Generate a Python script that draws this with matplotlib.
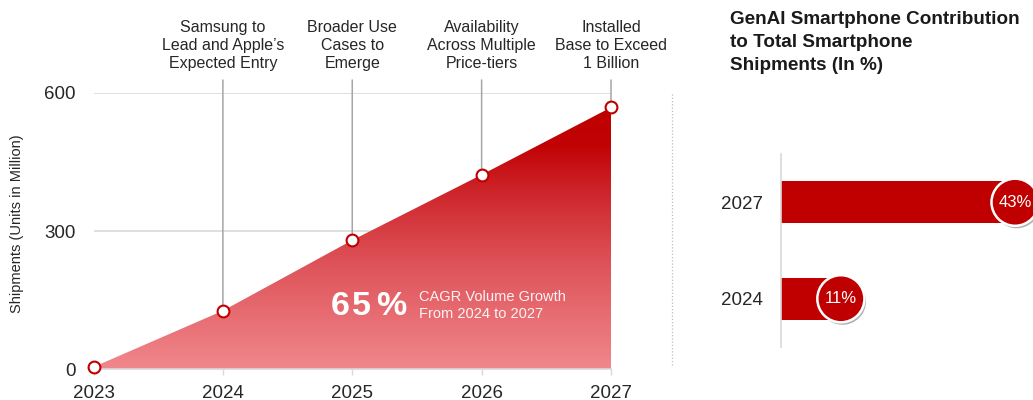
import numpy as np
import matplotlib
matplotlib.use("Agg")
import matplotlib.pyplot as plt
from matplotlib.colors import LinearSegmentedColormap
from matplotlib.patches import Polygon
import matplotlib.patheffects as pe

plt.rcParams['font.family'] = ['Liberation Sans', 'DejaVu Sans']

# ---- data -------------------------------------------------------------
years = [2023, 2024, 2025, 2026, 2027]
shipments = [5, 127, 280, 422, 568]          # GenAI smartphone shipments, million units
milestone_years = [2024, 2025, 2026, 2027]
milestones = [
    "Samsung to\nLead and Apple\u2019s\nExpected Entry",
    "Broader Use\nCases to\nEmerge",
    "Availability\nAcross Multiple\nPrice-tiers",
    "Installed\nBase to Exceed\n1 Billion",
]
y_ticks = [0, 300, 600]

share_years = ["2024", "2027"]
share_values = [11, 43]                      # % of total smartphone shipments

cagr_value = "65%"
cagr_text = "CAGR Volume Growth\nFrom 2024 to 2027"
right_title = "GenAI Smartphone Contribution\nto Total Smartphone\nShipments (In %)"

# ---- styling ----------------------------------------------------------
W, H = 1033, 400
RED = "#C00000"
GRID = "#D9D9D9"
TXT = "#262626"


def fx(px):
    return px / W


def fy(py):
    return 1 - py / H


fig = plt.figure(figsize=(W / 100, H / 100), dpi=100)

# ---- left panel: shipments area chart --------------------------------
ax_l, ax_r, ax_t, ax_b = 93.5, 611, 92.7, 369.3
ax = fig.add_axes([fx(ax_l), fy(ax_b), fx(ax_r) - fx(ax_l), fy(ax_t) - fy(ax_b)])
ax.set_xlim(years[0], years[-1])
ax.set_ylim(0, 600)
ax.set_axisbelow(True)

for s in ["top", "right", "left"]:
    ax.spines[s].set_visible(False)
ax.spines["bottom"].set_color(GRID)
ax.spines["bottom"].set_linewidth(1.2)

ax.set_xticks(years)
ax.set_xticklabels([str(y) for y in years])
ax.set_yticks(y_ticks)
ax.tick_params(axis="x", length=4.3, width=1, color=GRID, pad=7,
               labelsize=13.5, labelcolor=TXT)
ax.tick_params(axis="y", length=0, pad=13, labelsize=13.5, labelcolor=TXT)
ax.yaxis.grid(True, color=GRID, linewidth=1.2)
ax.set_ylabel("Shipments (Units in Million)", fontsize=10.5, color=TXT,
              va="center")
ax.yaxis.set_label_coords((17 - ax_l) / (ax_r - ax_l),
                          (ax_b - 224) / (ax_b - ax_t))

# gradient fill under the curve
grad = LinearSegmentedColormap.from_list(
    "redfade",
    [(0.0, "#F0878C"), (0.4, "#DE5359"), (0.65, "#CF2A30"),
     (0.85, "#C20306"), (1.0, "#BF0000")],
)
verts = [(years[0], 0)] + list(zip(years, shipments)) + [(years[-1], 0)]
poly = Polygon(verts, closed=True, facecolor="none", edgecolor="none")
ax.add_patch(poly)
img = ax.imshow(np.linspace(0, 1, 256).reshape(-1, 1), cmap=grad, origin="lower",
                extent=(years[0], years[-1], 0, max(shipments)),
                aspect="auto", zorder=2, interpolation="bilinear")
img.set_clip_path(poly)

# milestone leader lines and captions
for yr, label in zip(milestone_years, milestones):
    val = shipments[years.index(yr)]
    ax.annotate("", xy=(yr, val), xycoords="data",
                xytext=(yr, fy(80)), textcoords=("data", "figure fraction"),
                arrowprops=dict(arrowstyle="-", color="#A6A6A6", lw=1.1,
                                shrinkA=0, shrinkB=0),
                zorder=3, annotation_clip=False)
    ax.annotate(label, xy=(yr, fy(71)), xycoords=("data", "figure fraction"),
                ha="center", va="bottom", fontsize=11.5, color=TXT,
                linespacing=1.25, annotation_clip=False)

ax.plot(years, shipments, linestyle="none", marker="o", markersize=8.5,
        markerfacecolor="white", markeredgecolor=RED, markeredgewidth=1.5,
        zorder=5, clip_on=False)

# CAGR callout (big figure drawn glyph by glyph for wider tracking)
for ch, px in zip(cagr_value, [331, 352, 376]):
    fig.text(fx(px), fy(315), ch, fontsize=24.5, fontweight="bold",
             color="white", ha="left", va="baseline")
fig.text(fx(419), fy(318.3), cagr_text, fontsize=10.5, color="white",
         alpha=0.92, ha="left", va="baseline", linespacing=1.3)

# dotted separator
fig.add_artist(plt.Line2D([fx(671.7), fx(671.7)], [fy(94), fy(366)],
                          color="#BFBFBF", lw=0.9, linestyle=(0, (1, 1.6))))

# ---- right panel: share of total shipments ---------------------------
fig.text(fx(730.5), fy(11), right_title, fontsize=13.6, fontweight="bold",
         color="#1A1A1A", ha="left", va="top", linespacing=1.48)

ax2 = fig.add_axes([fx(781), fy(347), 1 - fx(781), fy(154) - fy(347)])
ax2.set_xlim(0, 46.3)
ax2.set_ylim(-0.5, 1.5)
for s in ["top", "right", "bottom"]:
    ax2.spines[s].set_visible(False)
ax2.spines["left"].set_color(GRID)
ax2.spines["left"].set_linewidth(1.2)
ax2.set_xticks([])
pos = np.arange(len(share_values))
ax2.set_yticks(pos)
ax2.set_yticklabels(share_years)
ax2.tick_params(axis="y", length=0, pad=13, labelsize=13.5, labelcolor=TXT)

ax2.barh(pos, share_values, height=0.44, color=RED, zorder=2)
bubbles = ax2.scatter(share_values, pos, s=1150, color=RED, edgecolors="white",
                      linewidths=1.8, zorder=4, clip_on=False)
bubbles.set_path_effects([pe.SimplePatchShadow(offset=(1.2, -1.8),
                                               shadow_rgbFace="#000000",
                                               alpha=0.3),
                          pe.Normal()])
for p, v in zip(pos, share_values):
    ax2.text(v, p, f"{v}%", ha="center", va="center", color="white",
             fontsize=12, zorder=5, clip_on=False)

fig.savefig("out.png", dpi=100)
